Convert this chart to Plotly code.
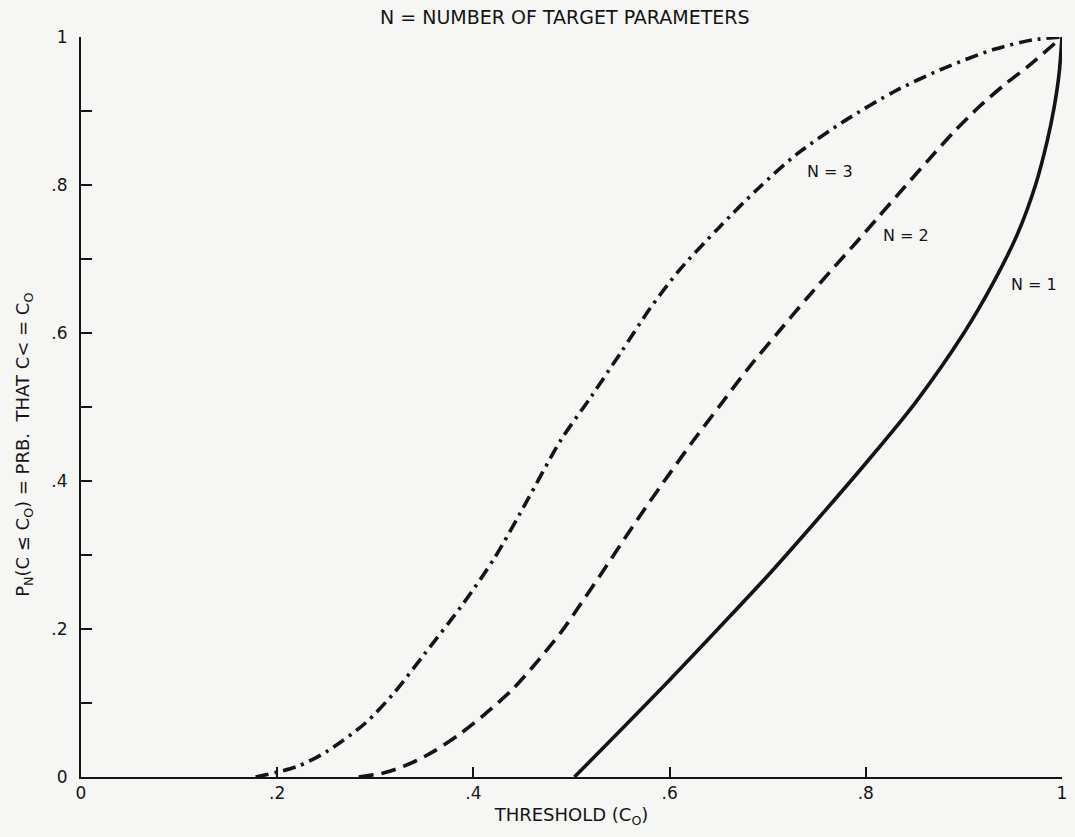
import plotly.graph_objects as go

# Threshold values (C_O) and cumulative probabilities for each N
n1_x = [0.503, 0.547, 0.600, 0.650, 0.700, 0.750, 0.800, 0.850, 0.900, 0.930, 0.955, 0.973, 0.985, 0.992, 0.997, 1.000]
n1_y = [0.000, 0.059, 0.131, 0.201, 0.272, 0.347, 0.424, 0.505, 0.600, 0.668, 0.735, 0.800, 0.860, 0.905, 0.950, 1.000]

n2_x = [0.283, 0.310, 0.337, 0.360, 0.387, 0.410, 0.438, 0.460, 0.489, 0.510, 0.530, 0.554, 0.575, 0.600, 0.625,
        0.653, 0.680, 0.712, 0.740, 0.763, 0.790, 0.813, 0.840, 0.864, 0.890, 0.915, 0.940, 0.966, 1.000]
n2_y = [0.000, 0.006, 0.019, 0.035, 0.059, 0.083, 0.116, 0.148, 0.195, 0.235, 0.274, 0.322, 0.363, 0.410, 0.456,
        0.505, 0.552, 0.603, 0.647, 0.682, 0.722, 0.757, 0.798, 0.834, 0.872, 0.905, 0.934, 0.961, 1.000]

n3_x = [0.178, 0.220, 0.250, 0.290, 0.320, 0.350, 0.390, 0.422, 0.455, 0.489, 0.520, 0.550, 0.580, 0.610,
        0.650, 0.690, 0.730, 0.780, 0.830, 0.880, 0.930, 0.970, 1.000]
n3_y = [0.000, 0.014, 0.034, 0.073, 0.115, 0.166, 0.235, 0.297, 0.374, 0.455, 0.514, 0.573, 0.633, 0.685,
        0.742, 0.795, 0.842, 0.888, 0.927, 0.958, 0.983, 0.996, 1.000]

curve_labels = ["N = 1", "N = 2", "N = 3"]
label_x = [0.971, 0.841, 0.763]
label_y = [0.665, 0.732, 0.818]

x_tickvals = [0, 0.2, 0.4, 0.6, 0.8, 1]
x_ticktext = ["0", ".2", ".4", ".6", ".8", "1"]
y_tickvals = [0, 0.2, 0.4, 0.6, 0.8, 1]
y_ticktext = ["0", ".2", ".4", ".6", ".8", "1"]

INK = "#141414"
PAPER = "#f6f6f4"
FONT = "DejaVu Sans"

fig = go.Figure()
fig.add_trace(go.Scatter(x=n1_x, y=n1_y, mode="lines",
                         line=dict(color=INK, width=3.6, shape="spline", smoothing=0.8)))
fig.add_trace(go.Scatter(x=n2_x, y=n2_y, mode="lines",
                         line=dict(color=INK, width=3.6, dash="15px,8px", shape="spline", smoothing=0.8)))
fig.add_trace(go.Scatter(x=n3_x, y=n3_y, mode="lines",
                         line=dict(color=INK, width=3.6, dash="13px,6px,3px,6px", shape="spline", smoothing=0.8)))

for t, lx, ly in zip(curve_labels, label_x, label_y):
    fig.add_annotation(x=lx, y=ly, text=t, showarrow=False, xanchor="center", yanchor="middle",
                       font=dict(family=FONT, size=16, color=INK))

fig.add_annotation(xref="paper", yref="paper", x=0.493, y=1.027, text="N = NUMBER OF TARGET PARAMETERS",
                   showarrow=False, xanchor="center", yanchor="middle",
                   font=dict(family=FONT, size=19, color=INK))

fig.add_annotation(xref="paper", yref="paper", x=-0.058, y=0.449, textangle=-90,
                   text="P<sub>N</sub>(C \u2264 C<sub>O</sub>) = PRB.  THAT C< = C<sub>O</sub>",
                   showarrow=False, xanchor="center", yanchor="middle",
                   font=dict(family=FONT, size=18, color=INK))

fig.update_layout(
    width=1075, height=837,
    margin=dict(l=81, r=8, t=37, b=60),
    paper_bgcolor=PAPER, plot_bgcolor=PAPER,
    showlegend=False,
    font=dict(family=FONT, size=16, color=INK),
    xaxis=dict(
        range=[0, 1], tickvals=x_tickvals, ticktext=x_ticktext,
        showgrid=False, zeroline=False, showline=True, linecolor=INK, linewidth=2,
        ticks="inside", ticklen=10, tickwidth=2, tickcolor=INK,
        tickfont=dict(family=FONT, size=17, color=INK),
        title=dict(text="THRESHOLD (C<sub>O</sub>)", font=dict(family=FONT, size=18, color=INK), standoff=6),
    ),
    yaxis=dict(
        range=[0, 1], tickvals=y_tickvals, ticktext=y_ticktext,
        showgrid=False, zeroline=False, showline=True, linecolor=INK, linewidth=2,
        ticks="inside", ticklen=11, tickwidth=2, tickcolor=INK,
        minor=dict(dtick=0.1, ticks="inside", ticklen=11, tickwidth=2, tickcolor=INK, showgrid=False),
        tickfont=dict(family=FONT, size=17, color=INK),
        ticklabelstandoff=8,
    ),
)

fig.write_html("out.html")
